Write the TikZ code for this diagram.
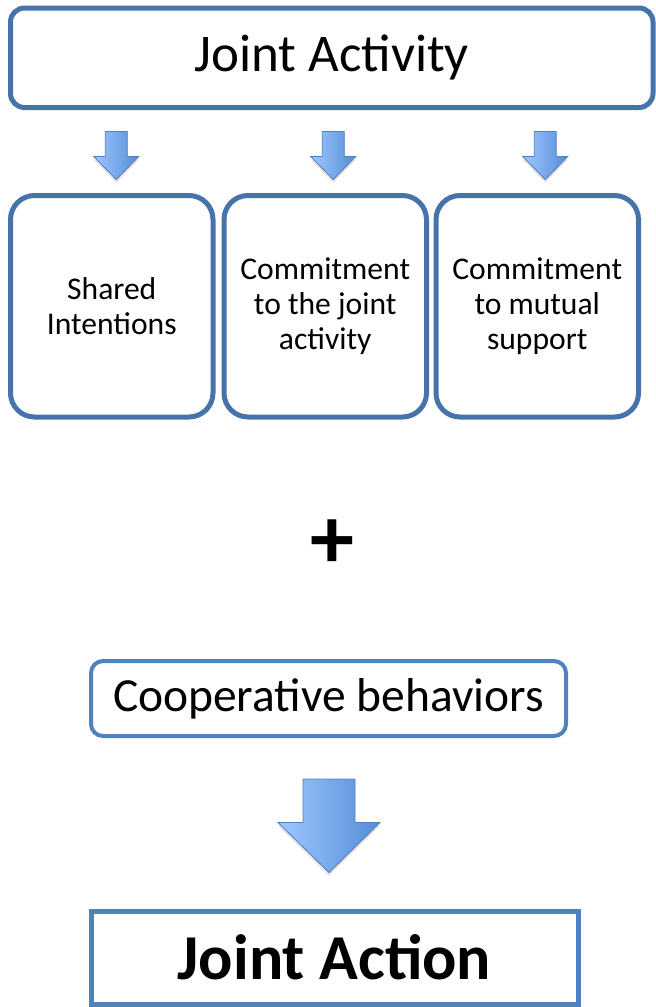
\documentclass[tikz,border=0pt]{standalone}
\usepackage{fontspec}
\setmainfont{Carlito}
\usetikzlibrary{calc,shadows,positioning}
\definecolor{boxblue}{RGB}{70,115,170}
\definecolor{lowblue}{RGB}{79,129,189}
\definecolor{arrowlight}{RGB}{160,198,255}
\definecolor{arrowdark}{RGB}{84,141,216}
\tikzset{
  topbox/.style = {draw=boxblue, line width=5pt, rounded corners=14pt, inner sep=0pt,
    minimum width=642.5pt, minimum height=99.5pt, font=\fontsize{53}{60}\selectfont},
  partbox/.style = {draw=boxblue, line width=5pt, rounded corners=24pt, inner sep=0pt,
    minimum width=202.5pt, minimum height=221.5pt, align=center,
    font=\fontsize{31.6}{35}\selectfont},
  coopbox/.style = {draw=lowblue, line width=4pt, rounded corners=12pt, inner sep=0pt,
    minimum width=475pt, minimum height=75pt, font=\fontsize{47.5}{55}\selectfont},
  actbox/.style = {draw=lowblue, line width=5pt, inner sep=0pt,
    minimum width=487pt, minimum height=93pt, font=\bfseries\fontsize{64}{70}\selectfont},
  blockarr/.style = {draw=lowblue, line width=0.8pt, line join=miter,
    left color=arrowlight, right color=arrowdark,
    drop shadow={opacity=0.25, shadow xshift=0pt, shadow yshift=-3pt}}
}
% #1 top point, #2 tip point, #3 half shaft, #4 half head, #5 head length
\newcommand{\blockarrow}[5]{%
  \path[blockarr] let \p1 = (#1), \p2 = (#2) in
    (\x1-#3,\y1) -- (\x1+#3,\y1) -- (\x1+#3,\y2+#5) -- (\x1+#4,\y2+#5)
    -- (\x1,\y2) -- (\x1-#4,\y2+#5) -- (\x1-#3,\y2+#5) -- cycle;}
\begin{document}
\begin{tikzpicture}[x=1pt, y=-1pt]
\useasboundingbox (0,0) rectangle (656,1007);
\node[topbox] (joint) at (331.75,57.75) {Joint Activity};
\node[partbox] (shared) at (111.75,306.25) {Shared\\Intentions};
\node[partbox] (cjoint) at (325.25,306.25) {Commitment\\to the joint\\activity};
\node[partbox] (cmutual) at (537.25,306.25) {Commitment\\to mutual\\support};
\node[font=\bfseries\fontsize{88}{90}\selectfont, inner sep=0pt] (plus) at (332,544) {+};
\node[coopbox] (coop) at (328.5,698.5) {\raisebox{-3pt}{Cooperative behaviors}};
\node[actbox] (action) at (334.5,957.5) {Joint Action};
% arrows
\blockarrow{$(joint.south -| shared)+(4.5,21.5)$}{$(shared.north)+(4.5,-13.5)$}{11pt}{22.5pt}{23pt}
\blockarrow{$(joint.south -| cjoint)+(8,21.5)$}{$(cjoint.north)+(8,-13.5)$}{11pt}{22.5pt}{23pt}
\blockarrow{$(joint.south -| cmutual)+(8,21.5)$}{$(cmutual.north)+(8,-13.5)$}{11pt}{22.5pt}{23pt}
\blockarrow{$(coop.south)+(0.5,41)$}{$(action.north)+(-5.5,-36)$}{26pt}{51pt}{50pt}
\end{tikzpicture}
\end{document}
